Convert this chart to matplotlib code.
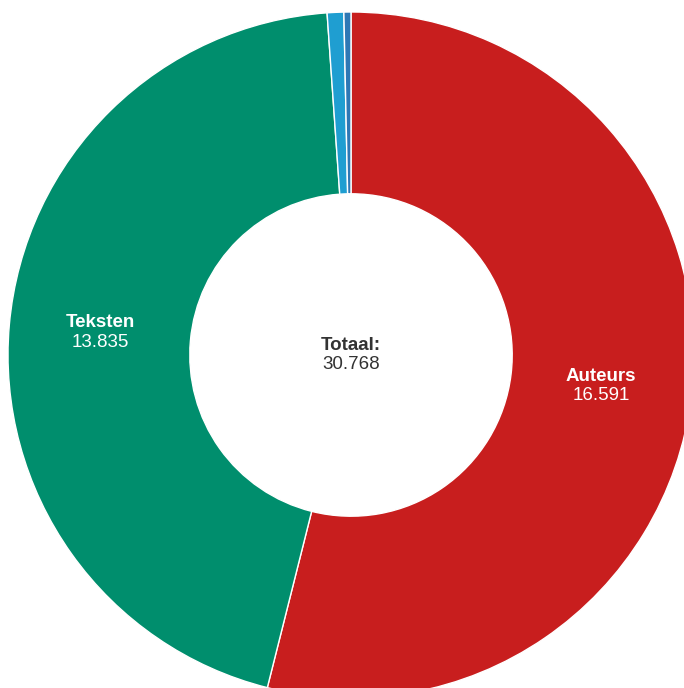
import numpy as np
import matplotlib
matplotlib.use("Agg")
import matplotlib.pyplot as plt

plt.rcParams['font.family'] = ['Liberation Sans', 'DejaVu Sans']

categories = ["Auteurs", "Teksten", "Overig 1", "Overig 2"]
values = [16591, 13835, 240, 102]
colors = ["#c81e1e", "#008e6d", "#1f9ed1", "#2e78b5"]
show_label = [True, True, False, False]
total_label = "Totaal:"

W, H = 684, 688
fig = plt.figure(figsize=(W / 100, H / 100), dpi=100)
ax = fig.add_axes([0, 0, 1, 1])

R_px = 343.0
cx, cy = 351.0, 355.0  # center in pixels from top-left

wedges, _ = ax.pie(values, colors=colors, startangle=90, counterclock=False,
                   radius=1.0, wedgeprops=dict(width=0.53, edgecolor='white', linewidth=1.0),
                   frame=True)
ax.set_aspect('auto')
ax.set_xlim(-cx / R_px, (W - cx) / R_px)
ax.set_ylim(-(H - cy) / R_px, cy / R_px)
ax.axis('off')

def fmt(v):
    return f"{v:,}".replace(",", ".")

for w, name, v, show in zip(wedges, categories, values, show_label):
    if not show:
        continue
    ang = np.deg2rad((w.theta1 + w.theta2) / 2)
    r = 0.735
    x, y = r * np.cos(ang), r * np.sin(ang)
    ax.text(x, y + 0.004, name, color='white', fontsize=13.5, fontweight='bold',
            ha='center', va='bottom')
    ax.text(x, y - 0.004, fmt(v), color='white', fontsize=13.5,
            ha='center', va='top')

ax.text(0.0, 0.004, total_label, color='#333333', fontsize=13.5, fontweight='bold',
        ha='center', va='bottom')
ax.text(0.0, -0.004, fmt(sum(values)), color='#333333', fontsize=13.5,
        ha='center', va='top')

fig.savefig("out.png", dpi=100)
